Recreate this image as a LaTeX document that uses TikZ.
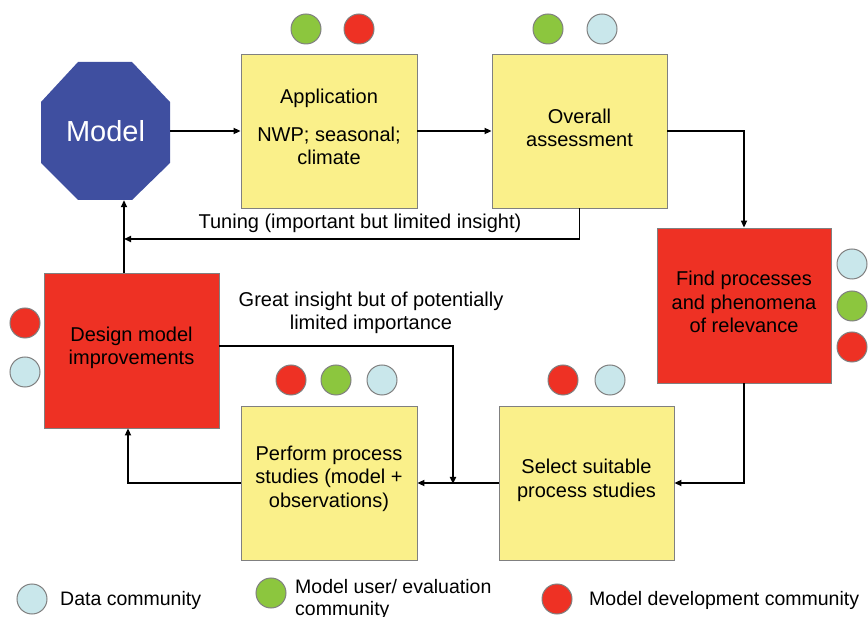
\documentclass[tikz,border=0pt]{standalone}
\usepackage{fontspec}
\setmainfont{Liberation Sans}
\usetikzlibrary{arrows.meta}
\definecolor{boxyellow}{HTML}{FAF08A}
\definecolor{boxred}{HTML}{EE3124}
\definecolor{cgreen}{HTML}{8CC63E}
\definecolor{cblue}{HTML}{C9E7EB}
\definecolor{cred}{HTML}{EE3124}
\definecolor{octblue}{HTML}{3F4FA0}
\definecolor{edgegray}{HTML}{808080}
\begin{document}
\begin{tikzpicture}[x=1pt,y=-1pt,
  ybox/.style={draw=edgegray, line width=0.8pt, fill=boxyellow, minimum width=176, minimum height=154, inner sep=0},
  rbox/.style={ybox, fill=boxred},
  btext/.style={align=center, inner sep=0, font=\fontsize{20}{23.5}\selectfont},
  dot/.style={circle, draw=edgegray, line width=1pt, minimum size=30, inner sep=0},
  arr/.style={line width=1.6pt, -{Triangle[length=7,width=6]}},
  lbl/.style={font=\fontsize{20}{23.5}\selectfont, align=center, inner sep=0},
  leg/.style={font=\fontsize{19.5}{22}\selectfont, align=left, inner sep=0, anchor=west},
]
\useasboundingbox (0,0) rectangle (868,617);
% octagon
\fill[octblue] (78,62) -- (132,62) -- (170,102) -- (170,163) -- (132,200) -- (78,200) -- (41,163) -- (41,102) -- cycle;
\node (model) [minimum width=129, minimum height=138, inner sep=0, text=white, font=\fontsize{29}{33}\selectfont] at (105.5,131) {Model};

\node (app) [ybox] at (329,131) {};
\node (ov) [ybox, minimum width=175] at (579.5,131) {};
\node (find) [rbox, minimum width=174, minimum height=155] at (744,305.5) {};
\node (design) [rbox, minimum width=175, minimum height=155] at (131.5,350.5) {};
\node (perform) [ybox] at (329,483) {};
\node (select) [ybox, minimum width=175] at (586.5,483) {};

\node (appt) [btext] at (329,127) {Application\\[14pt]NWP; seasonal;\\climate};
\node (ovt) [btext] at (579.5,128) {Overall\\assessment};
\node (findt) [btext] at (744,302) {Find processes\\and phenomena\\of relevance};
\node (designt) [btext] at (131.5,348) {Design model\\improvements};
\node (performt) [btext] at (329,478.5) {Perform process\\studies (model +\\observations)};
\node (selectt) [btext] at (586.5,480.5) {Select suitable\\process studies};

% community dots
\node (a1) [dot, fill=cgreen] at (306,29) {};
\node (a2) [dot, fill=cred] at (359,29) {};
\node (o1) [dot, fill=cgreen] at (548,29) {};
\node (o2) [dot, fill=cblue] at (602,29) {};
\node (f1) [dot, fill=cblue] at (852,264) {};
\node (f2) [dot, fill=cgreen] at (852,306) {};
\node (f3) [dot, fill=cred] at (852,347) {};
\node (d1) [dot, fill=cred] at (25,323) {};
\node (d2) [dot, fill=cblue] at (25,372) {};
\node (p1) [dot, fill=cred] at (291,380) {};
\node (p2) [dot, fill=cgreen] at (336,380) {};
\node (p3) [dot, fill=cblue] at (382,380) {};
\node (s1) [dot, fill=cred] at (563,380) {};
\node (s2) [dot, fill=cblue] at (610,380) {};

% connectors
\coordinate (tj) at (124,239);
\coordinate (gj) at (453,484);
\draw[arr] (model.east) -- (app.west);
\draw[arr] (app.east) -- (ov.west);
\draw[arr] (ov.east) -| (find.north);
\draw[arr] (ov.south) |- (tj);
\draw[arr] (design.north -| tj) -- (model.south -| tj);
\draw[arr] (find.south) |- (select.east);
\draw[arr] (select.west) -- (perform.east);
\draw[arr] ([yshift=4.5pt]design.east) -| (gj);
\draw[arr] (perform.west) -| ([xshift=-3.5pt]design.south);

\node (tlab) [lbl] at (360,223) {Tuning (important but limited insight)};
\node (glab) [lbl] at (371,313) {Great insight but of potentially\\limited importance};

% legend
\node (l1) [dot, fill=cblue] at (32,599) {};
\node (lt1) [leg] at (60,600) {Data community};
\node (l2) [dot, fill=cgreen] at (271,593) {};
\node (lt2) [leg] at (295,599) {Model user/ evaluation\\community};
\node (l3) [dot, fill=cred] at (557,599) {};
\node (lt3) [leg] at (589,600) {Model development community};
\end{tikzpicture}
\end{document}
